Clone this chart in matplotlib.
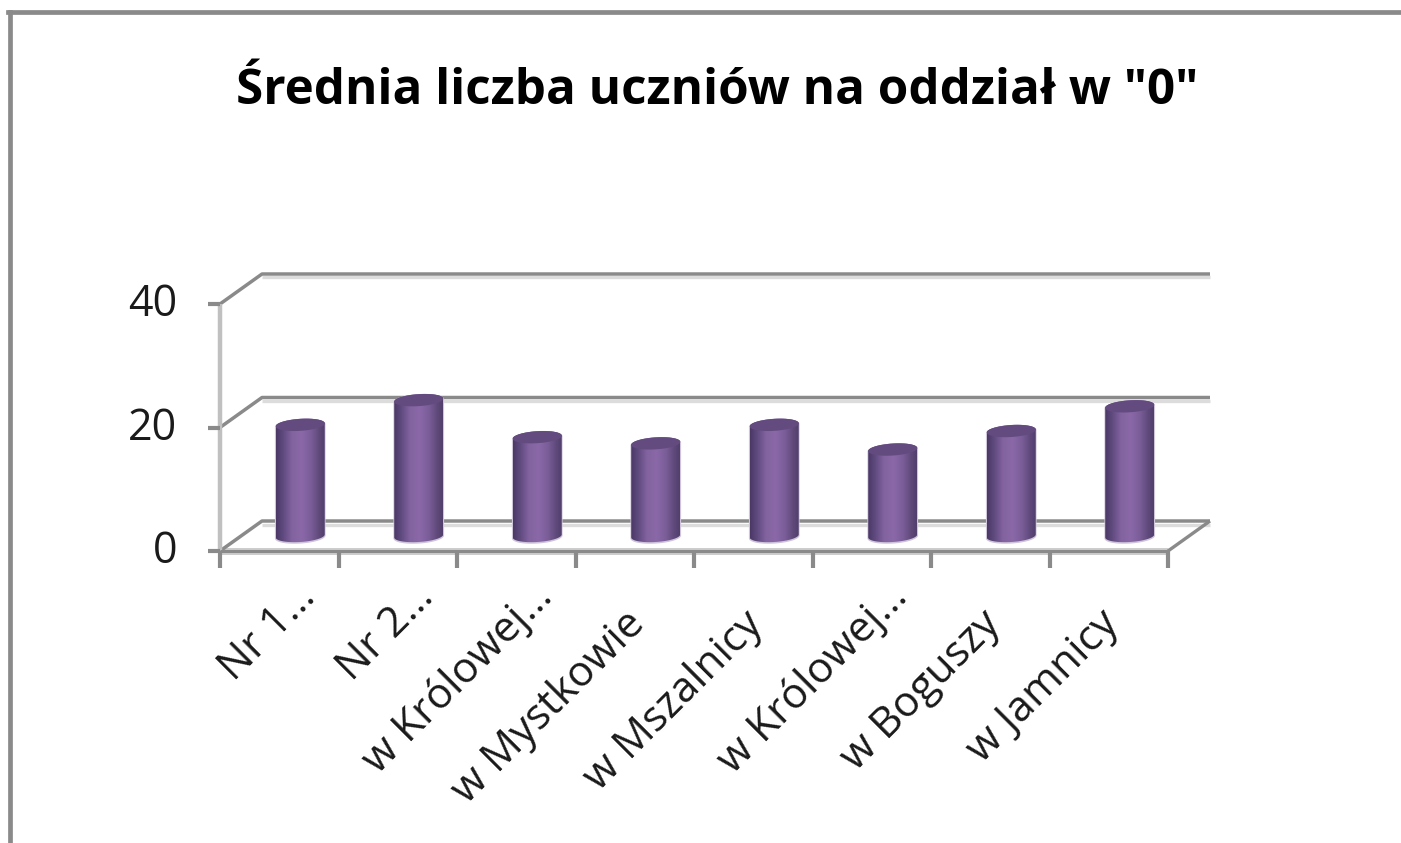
import numpy as np
import matplotlib
matplotlib.use("Agg")
import matplotlib.pyplot as plt
from matplotlib.colors import LinearSegmentedColormap
from matplotlib.patches import PathPatch, Polygon
from matplotlib.path import Path

title = 'Średnia liczba uczniów na oddział w "0"'
categories = ['Nr 1…', 'Nr 2…', 'w Królowej…', 'w Mystkowie',
              'w Mszalnicy', 'w Królowej…', 'w Boguszy', 'w Jamnicy']
values = [18, 22, 16, 15, 18, 14, 17, 21]
y_ticks = [0, 20, 40]

W, H = 1401, 843
FONT = 'Open Sans'
GRID = '#8a8a8a'
SHADOW = '#dcdcdc'

fig = plt.figure(figsize=(W / 100, H / 100), dpi=100, facecolor='white')

# frame of the picture
fig.add_artist(plt.Line2D([10 / W, 10 / W], [0, 1 - 12 / H], color='#8a8a8a', lw=3.4))
fig.add_artist(plt.Line2D([8 / W, 1], [1 - 12 / H, 1 - 12 / H], color='#8a8a8a', lw=3.4))

fig.text(717 / W, 1 - 92 / H, title, ha='center', va='center', fontsize=35.5,
         fontweight='bold', family=FONT, color='black')

L, R, B, T = 220, 1168, 551, 304
ax = fig.add_axes([L / W, 1 - B / H, (R - L) / W, (B - T) / H])
ax.set_xlim(0, len(categories))
ax.set_ylim(0, 40)
ax.axis('off')

px_x = (R - L) / len(categories)
px_y = (B - T) / 40
dx = 42 / px_x   # depth of the 3D box in data units
dy = 30 / px_y
n = len(categories)


def line(xs, ys, **kw):
    ax.plot(xs, ys, clip_on=False, solid_capstyle='butt', **kw)


# gridlines on back wall, side wall, and floor
for v in y_ticks:
    line([dx, n + dx], np.array([v + dy, v + dy]) - 3.5 / px_y, color=SHADOW, lw=2.4, zorder=1)
    line([0, dx, n + dx], [v, v + dy, v + dy], color=GRID, lw=2.5, zorder=2)
line([0, 0], [0, 40], color='#c0c0c0', lw=3.2, zorder=2)
line([0, n], [0, 0], color='#cccccc', lw=5, zorder=1)
line([0, n], [0, 0], color=GRID, lw=2.2, zorder=2)
line([n, n + dx], [0, dy], color=GRID, lw=2.4, zorder=2)

# ticks
for v in y_ticks:
    line([-12 / px_x, 0], [v, v], color=GRID, lw=3, zorder=2)
    ax.text(-43 / px_x, v - 0.15, str(v), ha='right', va='center', fontsize=31,
            family=FONT, color='#1a1a1a')
for i in range(n + 1):
    line([i, i], [0, -17 / px_y], color=GRID, lw=3, zorder=2)

# cylinders
cmap = LinearSegmentedColormap.from_list('cyl', [
    (0.0, '#4a3866'), (0.14, '#5f4a7e'), (0.32, '#82629f'), (0.52, '#8b69a9'),
    (0.72, '#7a5d98'), (0.88, '#604a7c'), (1.0, '#523f6c')])
grad = np.linspace(0, 1, 128).reshape(1, -1)
rx = 24.5 / px_x
ry = 6 / px_y
tilt = 1.5 / px_y
t = np.linspace(0, 2 * np.pi, 90)

for i, v in enumerate(values):
    cx = i + 0.5 + dx / 2
    base = dy / 2
    top = v + base
    ex = rx * np.cos(t)
    ey = ry * np.sin(t) + tilt * np.cos(t)
    tb = np.linspace(np.pi, 2 * np.pi, 45)
    tt = np.linspace(0, np.pi, 45)
    xs = np.r_[cx + rx * np.cos(tb), cx + rx * np.cos(tt)]
    ys = np.r_[base + ry * np.sin(tb) + tilt * np.cos(tb),
               top + ry * np.sin(tt) + tilt * np.cos(tt)]
    path = Path(np.c_[xs, ys])
    # pale halo
    halo = Polygon(np.c_[xs, ys - 0.12], closed=True, fc='#d9cfe4', ec='#cfc5da', lw=1.2,
                   zorder=3, clip_on=False)
    ax.add_patch(halo)
    im = ax.imshow(grad, cmap=cmap, extent=[cx - rx, cx + rx, base - ry - 1, top + ry + 1],
                   aspect='auto', zorder=4, interpolation='bilinear')
    clip = PathPatch(path, transform=ax.transData, fc='none', ec='none')
    ax.add_patch(clip)
    im.set_clip_path(clip)
    ax.add_patch(Polygon(np.c_[cx + ex, top + ey], closed=True, fc='#634b7f', ec='none',
                         zorder=5, clip_on=False))
ax.set_xlim(0, n)
ax.set_ylim(0, 40)

# category labels, rotated, ending under the column
for i, c in enumerate(categories):
    short = c.endswith('…')
    ox, oy = (15, -25) if short else (-11, -52)
    ax.text(i + 0.5 + ox / px_x, oy / px_y, c, rotation=45, rotation_mode='anchor',
            ha='right', va='top', fontsize=30.5, family=FONT, color='#1a1a1a', clip_on=False)

fig.savefig('out.png', dpi=100, facecolor='white')
